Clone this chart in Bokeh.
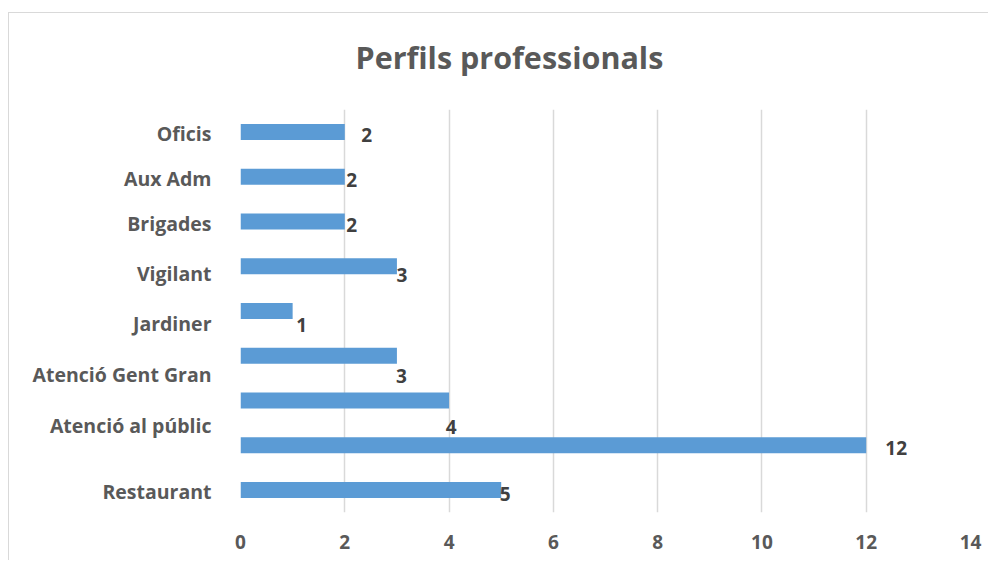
from bokeh.plotting import figure
from bokeh.models import Range1d, FixedTicker, ColumnDataSource, Title
from bokeh.core.properties import value
from bokeh.embed import file_html
from bokeh.resources import INLINE

# ---- data (bottom to top) ----
bar_values = [5, 12, 4, 3, 1, 3, 2, 2, 2]
category_labels = ["Restaurant", "Atenció al públic", "Atenció Gent Gran", "Jardiner",
                   "Vigilant", "Brigades", "Aux Adm", "Oficis"]
category_label_pos = [0.48, 1.94, 3.08, 4.22, 5.34, 6.46, 7.47, 8.46]
value_label_pos = [0.42, 1.44, 1.90, 3.05, 4.19, 5.31, 6.42, 7.42, 8.42]
value_label_dx = [4, 30, 2, 4.5, 9, 5, 7, 7, 22]
x_ticks = [0, 2, 4, 6, 8, 10, 12, 14]

FONT = "Open Sans"
GREY = "#595959"

p = figure(width=980, height=548, output_backend="svg", toolbar_location=None,
           x_range=Range1d(0, 14), y_range=Range1d(0, len(bar_values)),
           min_border_left=231, min_border_right=19, min_border_top=95, min_border_bottom=49,
           margin=(12, 0, 0, 8))
p.styles = {"border-left": "1px solid #d9d9d9", "border-top": "1px solid #d9d9d9"}
p.outline_line_color = None
p.background_fill_color = "white"
p.border_fill_color = "white"

# small spacer between plot frame and the title
spacer = Title(text=" ", text_font=FONT, text_font_size="7.5px", standoff=0)
p.add_layout(spacer, "above")
t = Title(text="Perfils professionals", align="left", offset=115, standoff=40,
          text_font=FONT, text_font_size="30.5px", text_font_style="bold", text_color=GREY)
p.add_layout(t, "above")

src = ColumnDataSource(dict(
    y=[i + 0.5 for i in range(len(bar_values))],
    v=bar_values,
    ly=value_label_pos,
    lt=[str(v) for v in bar_values],
    dx=value_label_dx,
))
p.hbar(y="y", right="v", left=0, height=0.357, source=src,
       fill_color="#5B9BD5", line_color=None)
p.text(x="v", y="ly", text="lt", x_offset="dx", source=src,
       text_align="center", text_baseline="middle",
       text_font=value(FONT), text_font_size="19px", text_font_style="bold",
       text_color="#404040")

# x axis
p.xaxis.ticker = FixedTicker(ticks=x_ticks)
p.xaxis.axis_line_color = None
p.xaxis.major_tick_line_color = None
p.xaxis.minor_tick_line_color = None
p.xaxis.major_tick_out = 0
p.xaxis.major_label_standoff = 22
p.xaxis.major_label_text_font = FONT
p.xaxis.major_label_text_font_size = "19px"
p.xaxis.major_label_text_font_style = "bold"
p.xaxis.major_label_text_color = GREY

# y axis
p.yaxis.ticker = FixedTicker(ticks=category_label_pos)
p.yaxis.major_label_overrides = {pos: lab for pos, lab in zip(category_label_pos, category_labels)}
p.yaxis.axis_line_color = None
p.yaxis.major_tick_line_color = None
p.yaxis.minor_tick_line_color = None
p.yaxis.major_tick_out = 0
p.yaxis.major_label_standoff = 29
p.yaxis.major_label_text_font = FONT
p.yaxis.major_label_text_font_size = "19.5px"
p.yaxis.major_label_text_font_style = "bold"
p.yaxis.major_label_text_color = GREY

# grid
p.ygrid.grid_line_color = None
p.xgrid.ticker = FixedTicker(ticks=x_ticks[1:])
p.xgrid.grid_line_color = "#D9D9D9"
p.xgrid.grid_line_width = 1.5

open("out.html", "w").write(file_html(p, INLINE))
